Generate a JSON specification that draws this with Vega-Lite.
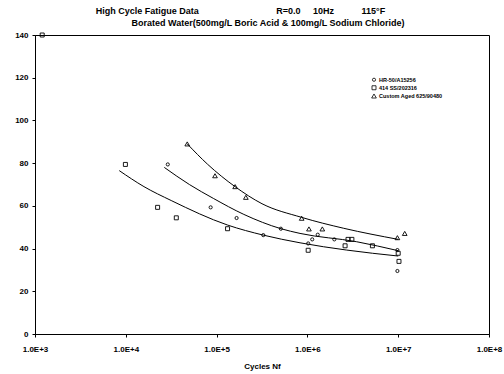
{
  "$schema": "https://vega.github.io/schema/vega-lite/v6.json",
  "autosize": "none",
  "width": 454,
  "height": 299,
  "padding": {"left": 35, "top": 35, "right": 15, "bottom": 40},
  "background": "white",
  "title": {
    "text": [
      "High Cycle Fatigue Data\u00a0\u00a0\u00a0\u00a0\u00a0\u00a0\u00a0\u00a0\u00a0\u00a0\u00a0\u00a0\u00a0\u00a0\u00a0\u00a0\u00a0\u00a0\u00a0\u00a0\u00a0\u00a0\u00a0\u00a0\u00a0\u00a0\u00a0\u00a0\u00a0\u00a0\u00a0R=0.0\u00a0\u00a0\u00a0\u00a0\u00a010Hz\u00a0\u00a0\u00a0\u00a0\u00a0\u00a0\u00a0\u00a0\u00a0\u00a0\u00a0115°F\u00a0\u00a0\u00a0\u00a0\u00a0\u00a0\u00a0\u00a0\u00a0\u00a0\u00a0\u00a0\u00a0\u00a0\u00a0\u00a0\u00a0\u00a0\u00a0\u00a0\u00a0\u00a0\u200b",
      "Borated Water(500mg/L Boric Acid & 100mg/L Sodium Chloride)"
    ],
    "font": "Liberation Sans",
    "fontSize": 9,
    "fontWeight": "bold",
    "lineHeight": 12,
    "anchor": "middle",
    "dx": 6,
    "offset": 3,
    "color": "black"
  },
  "config": {
    "view": {"stroke": "black", "strokeWidth": 1},
    "axis": {
      "domainColor": "black",
      "tickColor": "black",
      "labelColor": "black",
      "titleColor": "black",
      "labelFont": "Liberation Sans",
      "titleFont": "Liberation Sans",
      "labelFontWeight": "bold",
      "titleFontWeight": "bold",
      "grid": false
    }
  },
  "datasets": {
    "pts": [
      {"series": "HR-50/A15256", "N": 29000, "S": 79.4},
      {"series": "HR-50/A15256", "N": 86000, "S": 59.3},
      {"series": "HR-50/A15256", "N": 166000, "S": 54.3},
      {"series": "HR-50/A15256", "N": 327000, "S": 46.3},
      {"series": "HR-50/A15256", "N": 510000, "S": 49.3},
      {"series": "HR-50/A15256", "N": 1020000, "S": 42.4},
      {"series": "HR-50/A15256", "N": 1130000, "S": 44.3},
      {"series": "HR-50/A15256", "N": 1300000, "S": 46.5},
      {"series": "HR-50/A15256", "N": 1980000, "S": 44.3},
      {"series": "HR-50/A15256", "N": 9800000, "S": 39.3},
      {"series": "HR-50/A15256", "N": 9800000, "S": 29.5},
      {"series": "414 SS/202316", "N": 1200, "S": 140},
      {"series": "414 SS/202316", "N": 9900, "S": 79.4},
      {"series": "414 SS/202316", "N": 22400, "S": 59.3},
      {"series": "414 SS/202316", "N": 36000, "S": 54.4},
      {"series": "414 SS/202316", "N": 132000, "S": 49.3},
      {"series": "414 SS/202316", "N": 1020000, "S": 39.2},
      {"series": "414 SS/202316", "N": 2600000, "S": 41.3},
      {"series": "414 SS/202316", "N": 2800000, "S": 44.3},
      {"series": "414 SS/202316", "N": 3090000, "S": 44.3},
      {"series": "414 SS/202316", "N": 5200000, "S": 41.3},
      {"series": "414 SS/202316", "N": 10000000, "S": 37.8},
      {"series": "414 SS/202316", "N": 10200000, "S": 34},
      {"series": "Custom Aged 625/90480", "N": 47500, "S": 89},
      {"series": "Custom Aged 625/90480", "N": 96000, "S": 74.1},
      {"series": "Custom Aged 625/90480", "N": 160000, "S": 69},
      {"series": "Custom Aged 625/90480", "N": 210000, "S": 64},
      {"series": "Custom Aged 625/90480", "N": 865000, "S": 54.2},
      {"series": "Custom Aged 625/90480", "N": 1040000, "S": 49.2},
      {"series": "Custom Aged 625/90480", "N": 1460000, "S": 49.2},
      {"series": "Custom Aged 625/90480", "N": 9800000, "S": 45.1},
      {"series": "Custom Aged 625/90480", "N": 11800000, "S": 47.1}
    ],
    "curves": [
      {"fit": "lower", "N": 8472, "S": 76.5},
      {"fit": "lower", "N": 15850, "S": 69},
      {"fit": "lower", "N": 31620, "S": 62.5},
      {"fit": "lower", "N": 132400, "S": 51.0},
      {"fit": "lower", "N": 326600, "S": 46.3},
      {"fit": "lower", "N": 829800, "S": 42.7},
      {"fit": "lower", "N": 2710000, "S": 39.3},
      {"fit": "lower", "N": 10020000, "S": 36.5},
      {"fit": "middle", "N": 26550, "S": 78.0},
      {"fit": "middle", "N": 50120, "S": 70},
      {"fit": "middle", "N": 92050, "S": 63.5},
      {"fit": "middle", "N": 199500, "S": 56},
      {"fit": "middle", "N": 511700, "S": 49.3},
      {"fit": "middle", "N": 829800, "S": 47.1},
      {"fit": "middle", "N": 3491000, "S": 43.2},
      {"fit": "middle", "N": 10020000, "S": 39.0},
      {"fit": "upper", "N": 47530, "S": 89.0},
      {"fit": "upper", "N": 79430, "S": 79.5},
      {"fit": "upper", "N": 159600, "S": 69.0},
      {"fit": "upper", "N": 316200, "S": 61},
      {"fit": "upper", "N": 865000, "S": 54.6},
      {"fit": "upper", "N": 2512000, "S": 49.5},
      {"fit": "upper", "N": 10020000, "S": 44.3}
    ]
  },
  "layer": [
    {
      "data": {"name": "curves"},
      "mark": {"type": "line", "color": "black", "strokeWidth": 1, "interpolate": "monotone"},
      "encoding": {
        "x": {"field": "N", "type": "quantitative"},
        "y": {"field": "S", "type": "quantitative"},
        "detail": {"field": "fit"}
      }
    },
    {
      "data": {"name": "pts"},
      "mark": {"type": "point", "filled": false, "stroke": "black", "strokeWidth": 0.9, "opacity": 1},
      "encoding": {
        "x": {
          "field": "N",
          "type": "quantitative",
          "scale": {"type": "log", "domain": [1000, 100000000], "nice": false},
          "axis": {
            "title": "Cycles Nf",
            "values": [1000, 10000, 100000, 1000000, 10000000, 100000000],
            "labelExpr": "'1.0E+' + format(round(log(datum.value)/LN10), 'd')",
            "labelFontSize": 8,
            "titleFontSize": 8,
            "tickSize": 3,
            "labelPadding": 8,
            "titlePadding": 9,
            "labelFlush": false
          }
        },
        "y": {
          "field": "S",
          "type": "quantitative",
          "scale": {"domain": [0, 140], "nice": false},
          "axis": {
            "title": null,
            "values": [0, 20, 40, 60, 80, 100, 120, 140],
            "labelFontSize": 8,
            "tickSize": 3,
            "labelPadding": 4
          }
        },
        "shape": {
          "field": "series",
          "type": "nominal",
          "sort": ["HR-50/A15256", "414 SS/202316", "Custom Aged 625/90480"],
          "scale": {
            "domain": ["HR-50/A15256", "414 SS/202316", "Custom Aged 625/90480"],
            "range": ["circle", "square", "triangle-up"]
          },
          "legend": {
            "title": null,
            "orient": "none",
            "legendX": 336,
            "legendY": 42,
            "labelFont": "Liberation Sans",
            "labelFontSize": 5.5,
            "labelFontWeight": "bold",
            "labelColor": "black",
            "symbolStrokeColor": "black",
            "symbolStrokeWidth": 0.8,
            "rowPadding": 0,
            "labelOffset": 2,
            "symbolOffset": 0
          }
        },
        "size": {
          "field": "series",
          "type": "nominal",
          "sort": ["HR-50/A15256", "414 SS/202316", "Custom Aged 625/90480"],
          "scale": {
            "domain": ["HR-50/A15256", "414 SS/202316", "Custom Aged 625/90480"],
            "range": [10, 22, 18]
          }
        }
      }
    }
  ]
}
